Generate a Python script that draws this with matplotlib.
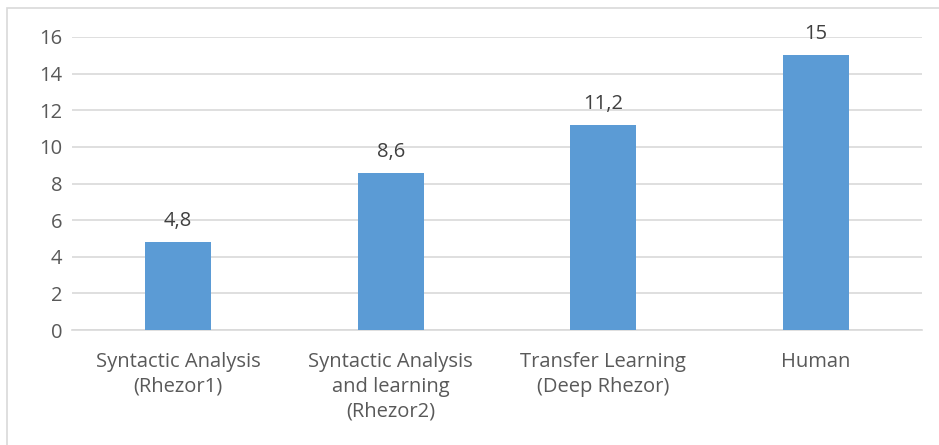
import matplotlib
matplotlib.use("Agg")
import matplotlib.pyplot as plt
from matplotlib.patches import Rectangle

# data
categories = ["Syntactic Analysis\n(Rhezor1)",
              "Syntactic Analysis\nand learning\n(Rhezor2)",
              "Transfer Learning\n(Deep Rhezor)",
              "Human"]
values = [4.8, 8.6, 11.2, 15]
value_labels = ["4,8", "8,6", "11,2", "15"]
yticks = [0, 2, 4, 6, 8, 10, 12, 14, 16]

plt.rcParams['font.family'] = ['Open Sans', 'DejaVu Sans']

W, H = 939, 445
fig = plt.figure(figsize=(W / 100, H / 100), dpi=100)
ax = fig.add_axes([72 / W, 1 - 330 / H, 850 / W, 293 / H])

# chart frame (only left/top visible in the crop)
fig.patches.append(Rectangle((7 / W, -0.1), 1.2, 1 - 8 / H + 0.1,
                             transform=fig.transFigure, fill=False,
                             edgecolor="#d9d9d9", linewidth=1.2))

x = list(range(len(values)))
bars = ax.bar(x, values, width=0.31, color="#5b9bd5", zorder=3)

for xi, v, lab in zip(x, values, value_labels):
    ax.text(xi, v + 0.6, lab, ha="center", va="bottom",
            fontsize=14.5, color="#404040")

ax.set_xlim(-0.5, 3.5)
ax.set_ylim(0, 16)
ax.set_yticks(yticks)
ax.set_yticklabels([str(t) for t in yticks])
ax.set_xticks(x)
ax.set_xticklabels(categories, fontsize=14.5, color="#595959", linespacing=1.3)
ax.tick_params(axis="y", labelsize=14.5, labelcolor="#595959", length=0, pad=7)
ax.tick_params(axis="x", length=0, pad=16)

ax.grid(axis="y", color="#d9d9d9", linewidth=1.2, zorder=0)
for s in ["top", "right", "left"]:
    ax.spines[s].set_visible(False)
ax.spines["bottom"].set_color("#d9d9d9")
ax.spines["bottom"].set_linewidth(1.2)

fig.savefig("out.png", dpi=100)
